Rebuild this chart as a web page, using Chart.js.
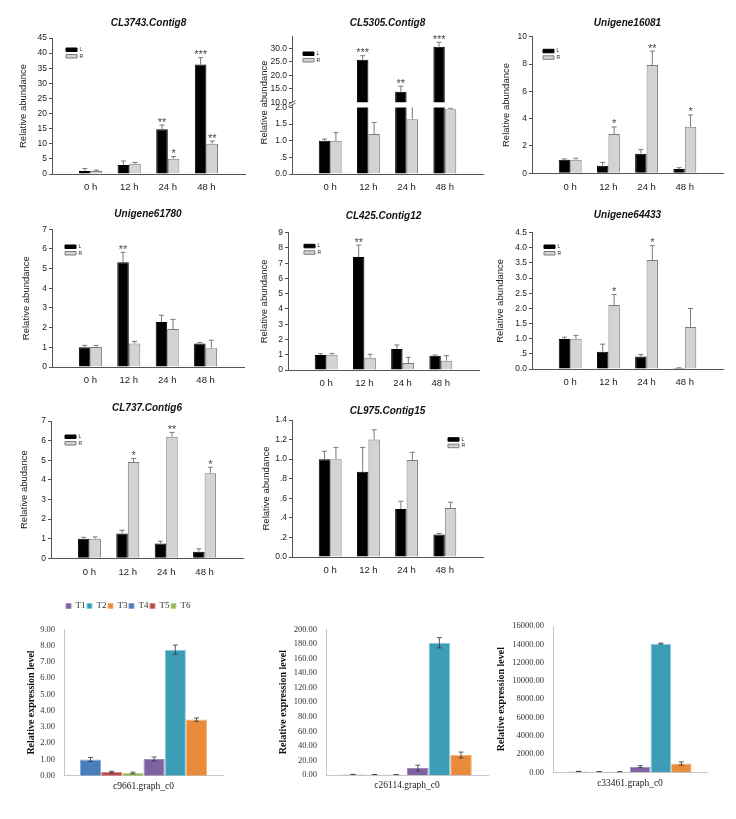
<!DOCTYPE html>
<html><head><meta charset="utf-8">
<script src="https://cdn.jsdelivr.net/npm/chart.js@4.4.1/dist/chart.umd.min.js"></script>
<style>
html,body{margin:0;padding:0;background:#fff;}
body{width:736px;height:819px;position:relative;overflow:hidden;}
</style></head><body>
<script>
// ---------- shared categories ----------
const timeCats = ['0 h', '12 h', '24 h', '48 h'];
const timeIdx = [1, 2, 3, 4];
const seriesNames = ['L', 'R'];

// CL3743.Contig8
const a_L = [1.0, 3.0, 14.8, 36.2];
const a_Lerr = [0.8, 1.3, 1.4, 2.3];
const a_R = [1.0, 3.4, 5.05, 10.0];
const a_Rerr = [0.3, 0.4, 0.7, 0.9];
const a_Lsig = ['', '', '**', '***'];
const a_Rsig = ['', '', '*', '**'];
const a_ticks = ['0', '5', '10', '15', '20', '25', '30', '35', '40', '45'];

// CL5305.Contig8 (broken axis)
const b_L = [1.0, 25.8, 14.0, 30.6];
const b_Lerr = [0.05, 1.5, 2.0, 1.7];
const b_R = [1.0, 1.2, 1.65, 1.95];
const b_Rerr = [0.25, 0.35, 0.4, 0.03];
const b_Lsig = ['', '***', '**', '***'];
const b_Rsig = ['', '', '', ''];
const b_ticksHigh = ['10.0', '15.0', '20.0', '25.0', '30.0'];
const b_ticksLow = ['0.0', '.5', '1.0', '1.5', '2.0'];

// Unigene16081
const c_L = [1.0, 0.56, 1.44, 0.32];
const c_Lerr = [0.05, 0.24, 0.29, 0.09];
const c_R = [1.0, 2.88, 7.93, 3.41];
const c_Rerr = [0.1, 0.51, 1.02, 0.86];
const c_Lsig = ['', '', '', ''];
const c_Rsig = ['', '*', '**', '*'];
const c_ticks = ['0', '2', '4', '6', '8', '10'];

// Unigene61780
const d_L = [1.0, 5.32, 2.29, 1.2];
const d_Lerr = [0.1, 0.51, 0.34, 0.04];
const d_R = [1.02, 1.2, 1.93, 0.95];
const d_Rerr = [0.08, 0.1, 0.49, 0.41];
const d_Lsig = ['', '**', '', ''];
const d_Rsig = ['', '', '', ''];
const d_ticks = ['0', '1', '2', '3', '4', '5', '6', '7'];

// CL425.Contig12
const e_L = [0.98, 7.4, 1.38, 0.94];
const e_Lerr = [0.09, 0.79, 0.26, 0.04];
const e_R = [1.0, 0.81, 0.46, 0.61];
const e_Rerr = [0.09, 0.22, 0.37, 0.33];
const e_Lsig = ['', '**', '', ''];
const e_Rsig = ['', '', '', ''];
const e_ticks = ['0', '1', '2', '3', '4', '5', '6', '7', '8', '9'];

// Unigene64433
const f_L = [0.99, 0.57, 0.41, 0.03];
const f_Lerr = [0.06, 0.25, 0.07, 0.01];
const f_R = [1.0, 2.11, 3.6, 1.39];
const f_Rerr = [0.11, 0.35, 0.47, 0.61];
const f_Lsig = ['', '', '', ''];
const f_Rsig = ['', '*', '*', ''];
const f_ticks = ['0.0', '.5', '1.0', '1.5', '2.0', '2.5', '3.0', '3.5', '4.0', '4.5'];

// CL737.Contig6
const g_L = [1.0, 1.27, 0.75, 0.34];
const g_Lerr = [0.07, 0.16, 0.12, 0.14];
const g_R = [1.0, 4.91, 6.2, 4.33];
const g_Rerr = [0.09, 0.18, 0.22, 0.31];
const g_Lsig = ['', '', '', ''];
const g_Rsig = ['', '*', '**', '*'];
const g_ticks = ['0', '1', '2', '3', '4', '5', '6', '7'];

// CL975.Contig15
const h_L = [1.0, 0.87, 0.49, 0.23];
const h_Lerr = [0.08, 0.25, 0.08, 0.01];
const h_R = [1.0, 1.2, 0.99, 0.5];
const h_Rerr = [0.12, 0.1, 0.08, 0.06];
const h_Lsig = ['', '', '', ''];
const h_Rsig = ['', '', '', ''];
const h_ticks = ['0.0', '.2', '.4', '.6', '.8', '1.0', '1.2', '1.4'];

// ---------- bottom (expression) panels ----------
const treatments = ['T1', 'T2', 'T3', 'T4', 'T5', 'T6'];
const barOrder = ['T4', 'T5', 'T6', 'T1', 'T2', 'T3'];
const c9661 = [1.03, 7.75, 3.45, 1.0, 0.22, 0.17];
const c9661Err = [0.12, 0.28, 0.1, 0.12, 0.05, 0.05];
const c9661Ticks = ['0.00', '1.00', '2.00', '3.00', '4.00', '5.00', '6.00', '7.00', '8.00', '9.00'];
const c26114 = [9.5, 181.5, 27.5, 0.6, 0.5, 0.4];
const c26114Err = [4, 7, 4, 0.3, 0.2, 0.2];
const c26114Ticks = ['0.00', '20.00', '40.00', '60.00', '80.00', '100.00', '120.00', '140.00', '160.00', '180.00', '200.00'];
const c33461 = [620, 14080, 960, 90, 60, 50];
const c33461Err = [110, 60, 180, 20, 15, 10];
const c33461Ticks = ['0.00', '2000.00', '4000.00', '6000.00', '8000.00', '10000.00', '12000.00', '14000.00', '16000.00'];
const tColors = ['#7F62A1', '#3D9DB7', '#EA8A3B', '#4A7EBB', '#BE4B48', '#98B954'];
const tBorders = ['#a08bbd', '#86cde2', '#f3b47c', '#86a8d4', '#d68986', '#bed58c'];

// ---------- helpers ----------
const AX = '#555';
const SANS = "'Liberation Sans', Arial, sans-serif";
const SERIF = "'Liberation Serif', 'Times New Roman', serif";
Chart.defaults.font.family = SANS;
Chart.defaults.color = '#222';

function mount(x, y, w, h) {
  const d = document.createElement('div');
  d.style.cssText = 'position:absolute;left:' + x + 'px;top:' + y + 'px;width:' + w + 'px;height:' + h + 'px;';
  const c = document.createElement('canvas');
  d.appendChild(c);
  document.body.appendChild(d);
  return c;
}

const decor = {
  id: 'decor',
  afterLayout(chart, args, o) {
    const lg = chart.legend;
    if (lg && o.legendAt) {
      lg.left = o.legendAt[0];
      lg.top = o.legendAt[1];
      lg.right = lg.left + 600;
      lg.bottom = lg.top + 600;
    }
  },
  afterDatasetsDraw(chart, args, o) {
    const ctx = chart.ctx, area = chart.chartArea, yS = chart.scales.y;
    chart.data.datasets.forEach((ds, di) => {
      const meta = chart.getDatasetMeta(di);
      if (!ds.err) return;
      meta.data.forEach((bar, i) => {
        const raw = ds.data[i];
        if (raw == null) return;
        const v = Array.isArray(raw) ? raw[1] : raw;
        if (v > yS.max) return;
        const e = ds.err[i] || 0;
        const x = bar.x;
        const yTop = yS.getPixelForValue(v + e);
        const yBot = yS.getPixelForValue(o.both ? v - e : v);
        ctx.save();
        ctx.beginPath();
        ctx.rect(area.left, area.top, area.right - area.left, area.bottom - area.top);
        ctx.clip();
        ctx.strokeStyle = o.color;
        ctx.lineWidth = o.width;
        ctx.beginPath();
        ctx.moveTo(x, yBot); ctx.lineTo(x, yTop);
        ctx.moveTo(x - o.cap / 2, yTop); ctx.lineTo(x + o.cap / 2, yTop);
        if (o.both) { ctx.moveTo(x - o.cap / 2, yBot); ctx.lineTo(x + o.cap / 2, yBot); }
        ctx.stroke();
        ctx.restore();
        if (ds.sig && ds.sig[i]) {
          ctx.save();
          ctx.font = '11px ' + SANS;
          ctx.fillStyle = '#4a4a4a';
          ctx.textAlign = 'center';
          ctx.textBaseline = 'alphabetic';
          ctx.fillText(ds.sig[i], x, yTop + 0.5);
          ctx.restore();
        }
      });
    });
  },
  afterDraw(chart, args, o) {
    if (o.breakAt == null) return;
    const ctx = chart.ctx, yS = chart.scales.y, x = chart.chartArea.left;
    const y1 = yS.getPixelForValue(o.breakAt), y2 = y1 + o.breakGap;
    ctx.save();
    ctx.fillStyle = '#fff';
    ctx.fillRect(x - 1.5, y1 + 0.3, 3, o.breakGap - 0.6);
    ctx.strokeStyle = AX;
    ctx.lineWidth = 0.9;
    ctx.beginPath();
    ctx.moveTo(x - 3.5, y1 + 1.8); ctx.lineTo(x + 3.5, y1 - 1.8);
    ctx.moveTo(x - 3.5, y2 + 1.8); ctx.lineTo(x + 3.5, y2 - 1.8);
    ctx.stroke();
    ctx.restore();
  }
};

function sigma(p) {
  const A = p.area;
  const cx = Math.floor(p.yTitleCX - 7);
  const cy = Math.floor(p.titleCY - 7);
  const yw = A.l - cx;
  const w = Math.ceil(A.r - cx + 6);
  const showTitle = p.showTitle !== false;
  const showX = p.showX !== false;
  const showYTitle = p.showYTitle !== false;
  const showLegend = p.showLegend !== false;
  const h = showX ? Math.ceil(A.b - cy + 26) : Math.ceil(A.b - cy + 2);
  const xh = h - (A.b - cy);
  const tTop = p.titleCY - 6 - cy;
  const tBot = A.t - (p.titleCY + 6);
  const layoutTop = showTitle ? 0 : A.t - cy;
  const layoutBottom = showX ? 0 : h - (A.b - cy);
  const canvas = mount(cx, cy, w, h);
  const fl = p.floatFrom;
  const mk = (vals) => fl == null ? vals.slice() : vals.map(v => v > fl ? [fl, v] : null);
  const yMax = p.yMax != null ? p.yMax : parseFloat(p.ticks[p.ticks.length - 1]);
  const yMin = p.yMin != null ? p.yMin : 0;
  const legendAt = p.legendAt ? [p.legendAt[0] - cx - 1.5, p.legendAt[1] - cy - 1.5 - 0.75] : null;
  new Chart(canvas, {
    type: 'bar',
    data: {
      labels: timeIdx,
      datasets: [
        { label: seriesNames[0], data: mk(p.L), err: p.Lerr, sig: p.Lsig,
          backgroundColor: '#000', borderColor: '#000', borderWidth: 1,
          categoryPercentage: 0.6, barPercentage: 1.0, clip: 0 },
        { label: seriesNames[1], data: mk(p.R), err: p.Rerr, sig: p.Rsig,
          backgroundColor: '#d3d3d3', borderColor: '#7c7c7c', borderWidth: 1,
          categoryPercentage: 0.6, barPercentage: 1.0, clip: 0 }
      ]
    },
    options: {
      responsive: true, maintainAspectRatio: false, animation: false, events: [],
      layout: { padding: { left: 0, top: layoutTop, right: w - (A.r - cx), bottom: layoutBottom } },
      scales: {
        x: {
          type: 'linear', min: 0, max: 5, offset: false, display: showX,
          afterBuildTicks: s => { s.ticks = timeIdx.map(v => ({ value: v })); },
          afterFit: s => { if (showX) s.height = xh; },
          grid: { display: false, drawTicks: false },
          border: { display: true, color: AX, width: 1 },
          ticks: { autoSkip: false, maxRotation: 0, padding: 8, color: '#222',
            font: { family: SANS, size: 9.5 }, callback: v => timeCats[timeIdx.indexOf(v)] }
        },
        y: {
          min: yMin, max: yMax,
          afterBuildTicks: s => { s.ticks = p.ticks.map(t => ({ value: parseFloat(t) })); },
          afterFit: s => { s.width = yw; },
          grid: { display: true, drawOnChartArea: false, drawTicks: true, tickLength: 3, color: AX, lineWidth: 1 },
          border: { display: true, color: AX, width: 1 },
          ticks: { autoSkip: false, padding: 2, color: '#222', font: { family: SANS, size: 8.5 },
            callback: (v, i) => p.ticks[i] },
          title: { display: showYTitle, text: p.yTitle, color: '#222', font: { family: SANS, size: 9.5 },
            padding: { top: p.yTitleCX - cx - 5.7, bottom: 0 } }
        }
      },
      plugins: {
        legend: { display: showLegend, position: 'chartArea', align: 'start',
          labels: { boxWidth: 11, boxHeight: 3.5, padding: 1.5, color: '#222', font: { family: SANS, size: 5 } } },
        title: { display: showTitle, text: p.title, fullSize: false, color: '#111',
          font: { family: SANS, size: 10, weight: 'bold', style: 'italic' },
          padding: { top: tTop, bottom: tBot } },
        tooltip: { enabled: false },
        decor: { legendAt: legendAt, color: '#7a7a7a', width: 1, cap: 5, both: false,
          breakAt: p.breakAt != null ? p.breakAt : null, breakGap: p.breakGap || 0 }
      }
    },
    plugins: [decor]
  });
}

function excel(p) {
  const A = p.area;
  const cx = Math.floor(p.yTitleCX - 7);
  const cy = p.cy;
  const yw = A.l - cx;
  const w = Math.ceil(A.r - cx + 6);
  const h = Math.ceil(A.b - cy + 22);
  const xh = h - (A.b - cy);
  const hasLegend = !!p.legendAt;
  const canvas = mount(cx, cy, w, h);
  const datasets = barOrder.map(name => {
    const k = treatments.indexOf(name);
    return { label: name, data: [p.vals[k]], err: [p.errs[k]],
      backgroundColor: tColors[k], borderColor: tBorders[k], borderWidth: 1,
      categoryPercentage: 0.8, barPercentage: 1.0, clip: 0 };
  });
  const legendAt = hasLegend ? [p.legendAt[0] - cx - 1.5, p.legendAt[1] - cy - 1.5 - 2] : null;
  new Chart(canvas, {
    type: 'bar',
    data: { labels: [p.cat], datasets: datasets },
    options: {
      responsive: true, maintainAspectRatio: false, animation: false, events: [],
      layout: { padding: { left: 0, top: A.t - cy - (hasLegend ? 1 : 0), right: w - (A.r - cx), bottom: 0 } },
      scales: {
        x: {
          type: 'category', offset: true,
          afterFit: s => { s.height = xh; },
          grid: { display: false, drawTicks: false },
          border: { display: true, color: '#c6c6c6', width: 1 },
          ticks: { padding: 5, color: '#222', font: { family: SERIF, size: 9.5 } }
        },
        y: {
          min: 0, max: parseFloat(p.ticks[p.ticks.length - 1]),
          afterBuildTicks: s => { s.ticks = p.ticks.map(t => ({ value: parseFloat(t) })); },
          afterFit: s => { s.width = yw; },
          grid: { display: false, drawTicks: false },
          border: { display: true, color: '#c6c6c6', width: 1 },
          ticks: { autoSkip: false, padding: 9, color: '#333', font: { family: SERIF, size: 8.5 },
            callback: (v, i) => p.ticks[i] },
          title: { display: true, text: 'Relative expression level', color: '#111',
            font: { family: SERIF, size: 10, weight: 'bold' },
            padding: { top: p.yTitleCX - cx - 6, bottom: 0 } }
        }
      },
      plugins: {
        legend: { display: hasLegend, position: 'top', align: 'start', maxHeight: 1,
          labels: { boxWidth: 5, boxHeight: 5, padding: 1.5, color: '#333',
            font: { family: SERIF, size: 9 }, sort: (a, b) => a.text.localeCompare(b.text) } },
        title: { display: false },
        tooltip: { enabled: false },
        decor: { legendAt: legendAt, color: '#333', width: 0.8, cap: 5, both: true, breakAt: null }
      }
    },
    plugins: [decor]
  });
}

// ---------- build panels ----------
sigma({ title: 'CL3743.Contig8', yTitle: 'Relative abundance', L: a_L, Lerr: a_Lerr, R: a_R, Rerr: a_Rerr,
  Lsig: a_Lsig, Rsig: a_Rsig, ticks: a_ticks,
  area: { l: 52, t: 38, r: 245, b: 174 }, titleCY: 23, yTitleCX: 23, legendAt: [66, 48] });

sigma({ title: 'CL5305.Contig8', yTitle: 'Relative abundance', L: b_L, Lerr: b_Lerr, R: b_R, Rerr: b_Rerr,
  Lsig: b_Lsig, Rsig: b_Rsig, ticks: b_ticksHigh, yMin: -14.6, yMax: 34.6, floatFrom: 10, showX: false,
  area: { l: 292, t: 36, r: 483, b: 174 }, titleCY: 23, yTitleCX: 264, legendAt: [303, 52],
  breakAt: 10, breakGap: 2.5 });
sigma({ title: 'CL5305.Contig8', yTitle: 'Relative abundance', L: b_L, Lerr: b_Lerr, R: b_R, Rerr: b_Rerr,
  Lsig: b_Lsig, Rsig: b_Rsig, ticks: b_ticksLow, yMin: 0, yMax: 2,
  showTitle: false, showYTitle: false, showLegend: false,
  area: { l: 292, t: 107.5, r: 483, b: 174 }, titleCY: 23, yTitleCX: 264 });

sigma({ title: 'Unigene16081', yTitle: 'Relative abundance', L: c_L, Lerr: c_Lerr, R: c_R, Rerr: c_Rerr,
  Lsig: c_Lsig, Rsig: c_Rsig, ticks: c_ticks,
  area: { l: 532, t: 36.7, r: 723, b: 173.3 }, titleCY: 23, yTitleCX: 506, legendAt: [543, 49.3] });

sigma({ title: 'Unigene61780', yTitle: 'Relative abundance', L: d_L, Lerr: d_Lerr, R: d_R, Rerr: d_Rerr,
  Lsig: d_Lsig, Rsig: d_Rsig, ticks: d_ticks,
  area: { l: 52, t: 229.3, r: 244, b: 367 }, titleCY: 214, yTitleCX: 26.7, legendAt: [65, 245] });

sigma({ title: 'CL425.Contig12', yTitle: 'Relative abundance', L: e_L, Lerr: e_Lerr, R: e_R, Rerr: e_Rerr,
  Lsig: e_Lsig, Rsig: e_Rsig, ticks: e_ticks,
  area: { l: 288, t: 232.7, r: 479, b: 370 }, titleCY: 216.7, yTitleCX: 264, legendAt: [304, 244.3] });

sigma({ title: 'Unigene64433', yTitle: 'Relative abundance', L: f_L, Lerr: f_Lerr, R: f_R, Rerr: f_Rerr,
  Lsig: f_Lsig, Rsig: f_Rsig, ticks: f_ticks,
  area: { l: 532, t: 232.7, r: 723, b: 369 }, titleCY: 215, yTitleCX: 500.7, legendAt: [544, 245] });

sigma({ title: 'CL737.Contig6', yTitle: 'Relative abudance', L: g_L, Lerr: g_Lerr, R: g_R, Rerr: g_Rerr,
  Lsig: g_Lsig, Rsig: g_Rsig, ticks: g_ticks,
  area: { l: 51, t: 421, r: 243, b: 558.3 }, titleCY: 408, yTitleCX: 24, legendAt: [65, 435] });

sigma({ title: 'CL975.Contig15', yTitle: 'Relative abundance', L: h_L, Lerr: h_Lerr, R: h_R, Rerr: h_Rerr,
  Lsig: h_Lsig, Rsig: h_Rsig, ticks: h_ticks,
  area: { l: 292, t: 420, r: 483, b: 557 }, titleCY: 411.7, yTitleCX: 266.7, legendAt: [448, 437.7] });

excel({ cat: 'c9661.graph_c0', vals: c9661, errs: c9661Err, ticks: c9661Ticks,
  area: { l: 64, t: 629.3, r: 223, b: 775.7 }, yTitleCX: 31.7, cy: 598, legendAt: [66, 603.5] });
excel({ cat: 'c26114.graph_c0', vals: c26114, errs: c26114Err, ticks: c26114Ticks,
  area: { l: 326, t: 629.3, r: 488, b: 775 }, yTitleCX: 283, cy: 612 });
excel({ cat: 'c33461.graph_c0', vals: c33461, errs: c33461Err, ticks: c33461Ticks,
  area: { l: 553, t: 625, r: 707, b: 772.3 }, yTitleCX: 501.7, cy: 612 });
</script>
</body></html>
